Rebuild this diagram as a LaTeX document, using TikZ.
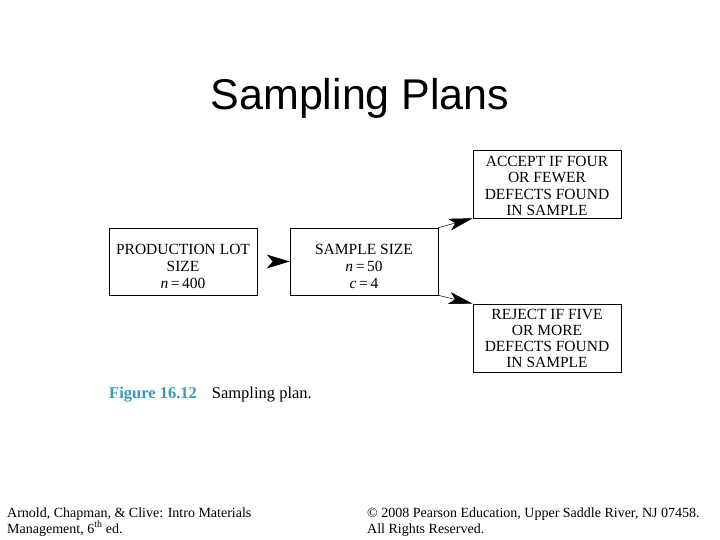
\documentclass[tikz,border=0pt]{standalone}
\usepackage{fontspec}
\setmainfont{Liberation Serif}
\newfontfamily\titlefont{Liberation Sans}
\usetikzlibrary{arrows.meta}
\definecolor{figteal}{HTML}{3A9AB5}
\begin{document}
\begin{tikzpicture}[x=1pt,y=-1pt,
  box/.style={draw, line width=0.6pt, minimum width=148pt, minimum height=67pt, inner sep=0pt},
  boxtext/.style={inner sep=0pt, align=center, font=\fontsize{15.5}{16.8}\selectfont},
  thinarrow/.style={-{Stealth[length=24pt,width=12pt,inset=6pt]}, line width=0.5pt}]
\useasboundingbox (0,0) rectangle (720,540);
\node[font=\titlefont\fontsize{43}{46}\selectfont, anchor=base] (title) at (360,110) {Sampling Plans};
\node[box] (prod) at (183,261.5) {};
\node[box] (samp) at (364,261.5) {};
\node[box, minimum height=68pt] (acc) at (547,184) {};
\node[box, minimum height=68pt] (rej) at (547,338) {};
\node[boxtext] (prodt) at ([yshift=-5pt]prod.center) {PRODUCTION LOT\\SIZE\\\textit{n}\,=\,400};
\node[boxtext] (sampt) at ([yshift=-5pt]samp.center) {SAMPLE SIZE\\\textit{n}\,=\,50\\\textit{c}\,=\,4};
\node[boxtext, font=\fontsize{15.5}{16.4}\selectfont] (acct) at ([yshift=-2pt]acc.center) {ACCEPT IF FOUR\\OR FEWER\\DEFECTS FOUND\\IN SAMPLE};
\node[boxtext, font=\fontsize{15.5}{16.2}\selectfont] (rejt) at ([yshift=-0.5pt]rej.center) {REJECT IF FIVE\\OR MORE\\DEFECTS FOUND\\IN SAMPLE};
\fill[black] (samp.west) -- ++(-23,-7) -- ++(6,7) -- ++(-6,7) -- cycle;
\draw[thinarrow] (samp.north east) -- (acc.south west);
\draw[thinarrow] (samp.south east) -- (rej.north west);
\node[anchor=base west, font=\fontsize{16.5}{18}\selectfont, inner sep=0pt] (cap) at (109,398) {\textcolor{figteal}{\textbf{Figure 16.12}}\hspace{15pt}Sampling plan.};
\node[anchor=base west, align=left, font=\fontsize{14}{16}\selectfont, inner sep=0pt] (fl) at (7,533) {Arnold, Chapman, \& Clive: Intro Materials\\Management, 6\textsuperscript{th} ed.};
\node[anchor=base west, align=left, font=\fontsize{14}{16}\selectfont, inner sep=0pt] (fr) at (367,533) {© 2008 Pearson Education, Upper Saddle River, NJ 07458.\\All Rights Reserved.};
\end{tikzpicture}
\end{document}
